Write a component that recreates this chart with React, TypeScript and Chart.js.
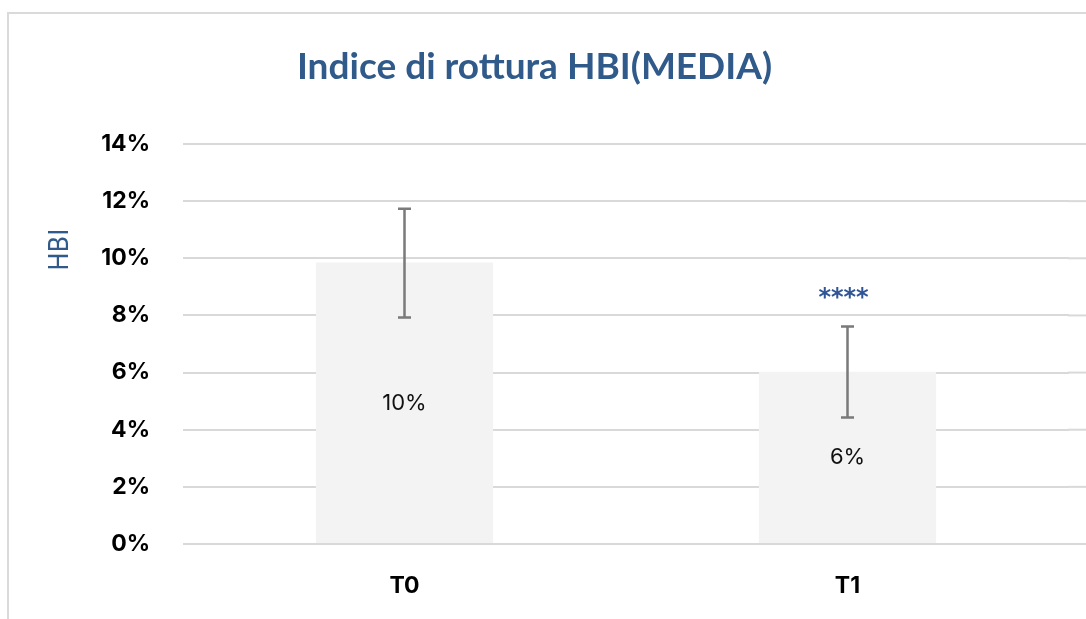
import React, { useEffect, useRef } from "react";
import { Chart, registerables } from "chart.js";

Chart.register(...registerables);

const categories = ["T0", "T1"];
const means = [9.85, 6.03];
const errLow = [7.93, 4.43];
const errHigh = [11.73, 7.61];
const valueLabels = ["10%", "6%"];
const significance = ["", "****"];
const significanceLevel = [0, 8.75];
const chartTitle = "Indice di rottura HBI(MEDIA)";
const axisTitle = "HBI";
const yMin = 0;
const yMax = 14;
const yStep = 2;

const GRID = "#d9d9d9";
const BLUE = "#2f5a8a";

const extendGrid = {
  id: "extendGrid",
  beforeDatasetsDraw(chart: any) {
    const { ctx, chartArea, scales } = chart;
    const y = scales.y;
    ctx.save();
    ctx.strokeStyle = GRID;
    ctx.lineWidth = 2;
    y.ticks.forEach((t: any) => {
      const py = y.getPixelForValue(t.value);
      ctx.beginPath();
      ctx.moveTo(chartArea.right - 1, py);
      ctx.lineTo(chart.width, py);
      ctx.stroke();
    });
    ctx.restore();
  },
};

const decorations = {
  id: "decorations",
  afterDatasetsDraw(chart: any) {
    const { ctx, scales } = chart;
    const x = scales.x;
    const y = scales.y;
    ctx.save();
    // error bars
    ctx.strokeStyle = "#7a7a7a";
    ctx.lineWidth = 2.5;
    categories.forEach((_, i) => {
      const px = x.getPixelForValue(i);
      const yl = y.getPixelForValue(errLow[i]);
      const yh = y.getPixelForValue(errHigh[i]);
      ctx.beginPath();
      ctx.moveTo(px, yl);
      ctx.lineTo(px, yh);
      ctx.moveTo(px - 6.5, yl);
      ctx.lineTo(px + 6.5, yl);
      ctx.moveTo(px - 6.5, yh);
      ctx.lineTo(px + 6.5, yh);
      ctx.stroke();
    });
    // value labels
    ctx.fillStyle = "#111";
    ctx.font = "22px Inter";
    ctx.textAlign = "center";
    ctx.textBaseline = "middle";
    categories.forEach((_, i) => {
      const px = x.getPixelForValue(i);
      const py = y.getPixelForValue(means[i] / 2);
      ctx.fillText(valueLabels[i], px, py);
    });
    // significance
    ctx.fillStyle = "#2f5597";
    ctx.font = "bold 24px 'DejaVu Sans'";
    categories.forEach((_, i) => {
      if (!significance[i]) return;
      const px = x.getPixelForValue(i) - 4;
      const py = y.getPixelForValue(significanceLevel[i]);
      ctx.fillText(significance[i], px, py + 5);
    });
    // axis title
    ctx.fillStyle = BLUE;
    ctx.font = "27px 'Liberation Sans Narrow', 'DejaVu Sans Condensed', sans-serif";
    ctx.translate(61, y.getPixelForValue(10.3));
    ctx.rotate(-Math.PI / 2);
    ctx.fillText(axisTitle, 0, 0);
    ctx.restore();
  },
};

export default function App() {
  const ref = useRef<HTMLCanvasElement>(null);
  useEffect(() => {
    if (!ref.current) return;
    const chart = new Chart(ref.current, {
      type: "bar",
      data: {
        labels: categories,
        datasets: [
          {
            data: means,
            backgroundColor: "#f3f3f3",
            borderWidth: 0,
            barPercentage: 0.4,
            categoryPercentage: 1,
          },
        ],
      },
      options: {
        animation: false,
        responsive: false,
        layout: { padding: { left: 0, right: 17, top: 0, bottom: 0 } },
        plugins: {
          legend: { display: false },
          tooltip: { enabled: false },
          title: {
            display: true,
            text: chartTitle,
            color: BLUE,
            font: { family: "Lato", size: 37, weight: "bold", lineHeight: 1.2 },
            padding: { top: 44.6, bottom: 55 },
          },
        },
        scales: {
          x: {
            grid: { display: false, drawTicks: false },
            border: { display: false },
            ticks: {
              color: "#000",
              font: { family: "Inter", size: 23, weight: "bold" },
              padding: 28,
            },
            afterFit(scale: any) {
              scale.height = 75;
            },
          },
          y: {
            min: yMin,
            max: yMax,
            grid: { color: GRID, lineWidth: 2, drawTicks: false },
            border: { display: false },
            ticks: {
              stepSize: yStep,
              color: "#000",
              font: { family: "Inter", size: 23, weight: "bold" },
              padding: 33,
              callback: (v: any) => v + "%",
            },
            afterFit(scale: any) {
              scale.width = 183;
            },
          },
        },
      },
      plugins: [extendGrid, decorations],
    });
    return () => chart.destroy();
  }, []);
  return (
    <div style={{ position: "absolute", left: 0, top: 0, width: 1086, height: 619, overflow: "hidden", background: "#fff" }}>
      <div style={{ position: "absolute", left: 7, top: 12, width: 3000, height: 3000, border: "2px solid #dadada" }} />
      <canvas ref={ref} width={1086} height={619} style={{ position: "absolute", left: 0, top: 0 }} />
    </div>
  );
}
